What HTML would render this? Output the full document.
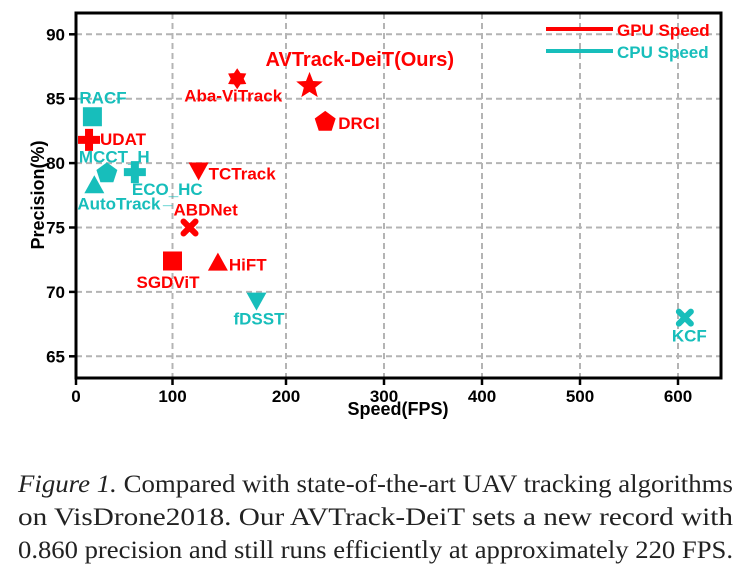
<!DOCTYPE html>
<html><head><meta charset="utf-8"><style>
html,body{margin:0;padding:0;background:#fff;}
svg{display:block;}
text{font-family:"Liberation Sans",sans-serif;font-weight:bold;}
.cap{font-family:"Liberation Serif",serif;font-weight:normal;font-size:25.5px;fill:#222;}
</style></head><body>
<svg id="chart" width="749" height="570" viewBox="0 0 749 570" xmlns="http://www.w3.org/2000/svg">
<g id="grid"></g>
<g id="axes"></g>
<g id="marks"></g>
<g>
<line x1="546" y1="29" x2="613" y2="29" stroke="#ff0000" stroke-width="4"/>
<text x="617" y="36" font-size="17" fill="#ff0000">GPU Speed</text>
<line x1="546" y1="51" x2="613" y2="51" stroke="#17bebb" stroke-width="4"/>
<text x="617" y="58" font-size="17" fill="#17bebb">CPU Speed</text>
</g>
<text x="398" y="415" font-size="18" text-anchor="middle" fill="#000">Speed(FPS)</text>
<text transform="translate(44,195) rotate(-90)" font-size="18" text-anchor="middle" fill="#000">Precision(%)</text>
<g>
<text class="cap" x="18" y="492" textLength="715" lengthAdjust="spacingAndGlyphs"><tspan font-style="italic">Figure 1.</tspan> Compared with state-of-the-art UAV tracking algorithms</text>
<text class="cap" x="18" y="525" textLength="715" lengthAdjust="spacingAndGlyphs">on VisDrone2018.  Our AVTrack-DeiT sets a new record with</text>
<text class="cap" x="18" y="558" textLength="715" lengthAdjust="spacingAndGlyphs">0.860 precision and still runs efficiently at approximately 220 FPS.</text>
</g>
</svg>
<script>
const names = ["AVTrack-DeiT(Ours)","Aba-ViTrack","DRCI","RACF","UDAT","MCCT_H","ECO_HC","AutoTrack","TCTrack","ABDNet","SGDViT","HiFT","fDSST","KCF"];
const speeds = [224,157,240,17,13.5,32,61,19,123,115,100,140,174,607];
const precisions = [86.0,86.55,83.2,83.6,81.8,79.2,79.3,78.2,79.5,75.0,72.4,72.2,69.4,68.0];
const devices = ["gpu","gpu","gpu","cpu","gpu","cpu","cpu","cpu","gpu","gpu","gpu","gpu","cpu","cpu"];
const shapes = ["star","hexagram","pentagon","square","plus","pentagon","plus","triangle","tridown","x","square","triangle","tridown","x"];
const xTicks = [0,100,200,300,400,500,600];
const yTicks = [65,70,75,80,85,90];
// label offsets relative to marker (dx, dy to baseline, size)
const labelOffsets = [[-44,-20,20],[-53,23,17],[13,7,17],[-13,-13,17],[11,5,17],[-28,-11,17],[-3,23,17],[-17,23,17],[10,10,17],[-16,-12,17],[-36,27,17],[11,7,17],[-23,25,17],[-13,24,17]];

const L=76,R=721,T=13,B=378;
function xs(v){ // axis has a slightly wider first interval in source image
  if(v<=100) return 76+v*0.965;
  if(v<=200) return 172.5+(v-100)*1.135;
  return 286+(v-200)*0.98;
}
function ys(v){return 34.3+(90-v)*12.88;}
const NS="http://www.w3.org/2000/svg";
function el(tag,attrs,parent){const e=document.createElementNS(NS,tag);for(const k in attrs)e.setAttribute(k,attrs[k]);parent.appendChild(e);return e;}
const grid=document.getElementById('grid'),axes=document.getElementById('axes'),marks=document.getElementById('marks');
xTicks.forEach(t=>{
  const x=xs(t);
  if(t>0){const g=el('line',{x1:x,y1:T,x2:x,y2:B,stroke:'#b4b4b4','stroke-width':2,'stroke-dasharray':'6,4'},grid);
  
  }
  const tk=el('line',{x1:x,y1:B,x2:x,y2:B+7,stroke:'#000','stroke-width':2.5},axes);
  
  
  const tx=el('text',{x:x,y:402,'font-size':17,'text-anchor':'middle',fill:'#000'},axes);
  tx.textContent=t;
  
  
});
yTicks.forEach(t=>{
  const y=ys(t);
  const g=el('line',{x1:L,y1:y,x2:R,y2:y,stroke:'#b4b4b4','stroke-width':2,'stroke-dasharray':'6,4'},grid);
  
  
  const tk=el('line',{x1:L-7,y1:y,x2:L,y2:y,stroke:'#000','stroke-width':2.5},axes);
  
  
  const tx=el('text',{x:65,y:y+6,'font-size':17,'text-anchor':'end',fill:'#000'},axes);
  tx.textContent=t;
  
  
});
const frame=el('rect',{x:L,y:T,width:R-L,height:B-T,fill:'none',stroke:'#000','stroke-width':3},axes);



function poly(n,r,rot,inner){const pts=[];const k=inner?n*2:n;for(let i=0;i<k;i++){const a=rot+i*Math.PI*2/k;const rr=inner&&(i%2)?inner:r;pts.push((rr*Math.sin(a)).toFixed(2)+','+(-rr*Math.cos(a)).toFixed(2));}return pts.join(' ');}
function shape(s,g,c){
  if(s==='star') return el('polygon',{points:poly(5,14,0,6),fill:c},g);
  if(s==='hexagram') return el('polygon',{points:poly(6,10.5,0,6.5),fill:c},g);
  if(s==='pentagon') return el('polygon',{points:poly(5,11,0),fill:c},g);
  if(s==='square') return el('rect',{x:-9.5,y:-9.5,width:19,height:19,fill:c},g);
  if(s==='triangle') return el('polygon',{points:'0,-11 10,7 -10,7',fill:c},g);
  if(s==='tridown') return el('polygon',{points:'0,11 10,-7 -10,-7',fill:c},g);
  if(s==='plus') return el('path',{d:'M-4,-11h8v7h7v8h-7v7h-8v-7h-7v-8h7z',fill:c},g);
  if(s==='x') return el('path',{d:'M-6,6L6,-6M-6,-6L6,6',stroke:c,'stroke-width':6,'stroke-linecap':'round'},g);
}
names.forEach((n,i)=>{
  const c=devices[i]==='gpu'?'#ff0000':'#17bebb';
  const x=xs(speeds[i]),y=ys(precisions[i]);
  const g=el('g',{transform:`translate(${x},${y})`},marks);
  
  
  shape(shapes[i],g,c);
  const o=labelOffsets[i];
  const t=el('text',{x:o[0],y:o[1],'font-size':o[2],fill:c},g);
  t.textContent=n;
  
  
});
const us=el('text',{x:163,y:204,'font-size':17,fill:'#17bebb'},marks);
us.textContent='_';


</script>
</body></html>
